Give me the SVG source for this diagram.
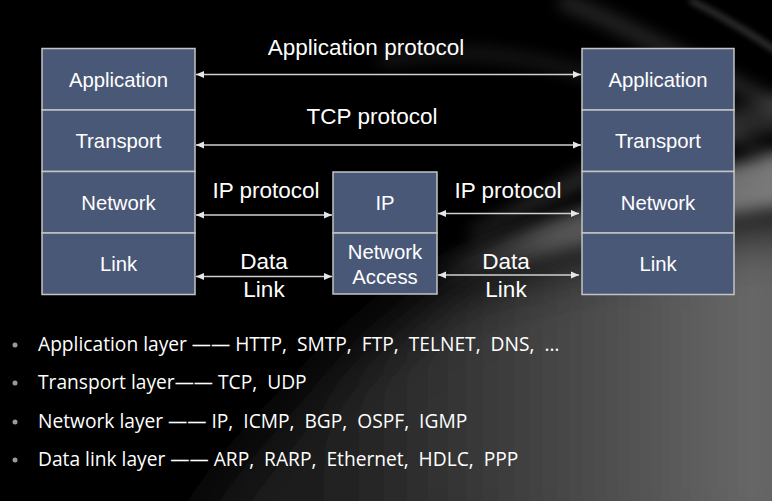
<svg xmlns="http://www.w3.org/2000/svg" width="772" height="501" viewBox="0 0 772 501">
  <defs>
    <linearGradient id="floor" x1="300" y1="0" x2="772" y2="0" gradientUnits="userSpaceOnUse">
      <stop offset="0" stop-color="#1a1a1a"/>
      <stop offset="0.45" stop-color="#3e3e3e"/>
      <stop offset="1" stop-color="#6a6a6a"/>
    </linearGradient>
    <linearGradient id="swoosh" x1="430" y1="0" x2="772" y2="0" gradientUnits="userSpaceOnUse">
      <stop offset="0" stop-color="#888" stop-opacity="0"/>
      <stop offset="0.35" stop-color="#888" stop-opacity="0.55"/>
      <stop offset="1" stop-color="#aaa" stop-opacity="0.7"/>
    </linearGradient>
    <filter id="blur8" x="-20%" y="-50%" width="140%" height="200%">
      <feGaussianBlur stdDeviation="8"/>
    </filter>
    <filter id="blur30" x="-30%" y="-30%" width="160%" height="160%">
      <feGaussianBlur stdDeviation="30"/>
    </filter>
    <filter id="blur3" x="-10%" y="-50%" width="120%" height="200%">
      <feGaussianBlur stdDeviation="3"/>
    </filter>
    <marker id="head" viewBox="0 0 8 8" refX="8" refY="4" markerWidth="8" markerHeight="8" markerUnits="userSpaceOnUse" orient="auto-start-reverse">
      <path d="M0,0.5 L8,4 L0,7.5 Z" fill="#e6e6e6"/>
    </marker>
  </defs>
  <style>
    .layer { fill: #4a5878; stroke: #c4c4c4; stroke-width: 1.5; }
    .lbl { font-family: "Liberation Sans", Arial, sans-serif; font-size: 20.3px; fill: #fff; text-anchor: middle; }
    .proto { font-family: "Liberation Sans", Arial, sans-serif; font-size: 22.5px; fill: #fff; text-anchor: middle; }
    .bullet { font-family: "Open Sans", "Liberation Sans", sans-serif; font-size: 19.2px; fill: #fff; white-space: pre; }
    .dot { fill: #9a9a9a; }
    .conn { stroke: #d0d0d0; stroke-width: 1.5; fill: none; marker-start: url(#head); marker-end: url(#head); }
  </style>

  <!-- dark backdrop with soft light sweeping in from the right -->
  <rect width="772" height="501" fill="#000"/>
  <path d="M180,560 C260,420 380,330 470,290 C580,250 680,230 820,220 L820,560 Z" fill="url(#floor)" filter="url(#blur30)"/>
  <path d="M430,262 C520,230 640,185 790,150 L790,205 C650,225 540,255 440,285 Z" fill="url(#swoosh)" filter="url(#blur8)"/>
  <path d="M470,230 C560,180 660,120 790,95 L790,130 C660,150 560,195 470,240 Z" fill="#777" opacity="0.35" filter="url(#blur8)"/>
  <path d="M560,0 C640,30 720,80 790,110" stroke="#aaa" stroke-width="14" fill="none" opacity="0.25" filter="url(#blur8)"/>
  <path d="M380,60 C480,40 620,60 790,170" stroke="#999" stroke-width="10" fill="none" opacity="0.2" filter="url(#blur8)"/>
  <path d="M690,0 C730,20 760,40 790,60" stroke="#bbb" stroke-width="4" fill="none" opacity="0.4" filter="url(#blur3)"/>

  <!-- left host stack -->
  <g id="host-left">
    <rect class="layer" x="42" y="48.5" width="153" height="61.5"/>
    <rect class="layer" x="42" y="110" width="153" height="61.5"/>
    <rect class="layer" x="42" y="171.5" width="153" height="61.5"/>
    <rect class="layer" x="42" y="233" width="153" height="61.5"/>
    <text class="lbl" x="118.5" y="87">Application</text>
    <text class="lbl" x="118.5" y="148">Transport</text>
    <text class="lbl" x="118.5" y="210">Network</text>
    <text class="lbl" x="118.5" y="271">Link</text>
  </g>

  <!-- router in the middle -->
  <g id="router">
    <rect class="layer" x="333" y="172" width="104" height="61"/>
    <rect class="layer" x="333" y="233" width="104" height="61"/>
    <text class="lbl" x="385" y="210">IP</text>
    <text class="lbl" x="385" y="259">Network</text>
    <text class="lbl" x="385" y="284">Access</text>
  </g>

  <!-- right host stack -->
  <g id="host-right">
    <rect class="layer" x="582" y="48.5" width="152" height="61.5"/>
    <rect class="layer" x="582" y="110" width="152" height="61.5"/>
    <rect class="layer" x="582" y="171.5" width="152" height="61.5"/>
    <rect class="layer" x="582" y="233" width="152" height="61.5"/>
    <text class="lbl" x="658" y="87">Application</text>
    <text class="lbl" x="658" y="148">Transport</text>
    <text class="lbl" x="658" y="210">Network</text>
    <text class="lbl" x="658" y="271">Link</text>
  </g>

  <!-- peer-to-peer protocol links -->
  <g id="connectors">
    <line class="conn" x1="196" y1="74.5" x2="581" y2="74.5"/>
    <line class="conn" x1="196" y1="145" x2="581" y2="145"/>
    <line class="conn" x1="196" y1="215" x2="332" y2="215"/>
    <line class="conn" x1="438" y1="213.5" x2="579" y2="213.5"/>
    <line class="conn" x1="196" y1="276.5" x2="332" y2="276.5"/>
    <line class="conn" x1="438" y1="275" x2="579" y2="275"/>
    <text class="proto" x="366" y="55">Application protocol</text>
    <text class="proto" x="372" y="124">TCP protocol</text>
    <text class="proto" x="266" y="198">IP protocol</text>
    <text class="proto" x="508" y="198">IP protocol</text>
    <text class="proto" x="264" y="269">Data</text>
    <text class="proto" x="264" y="297">Link</text>
    <text class="proto" x="506" y="269">Data</text>
    <text class="proto" x="506" y="297">Link</text>
  </g>

  <!-- protocol list per layer -->
  <g id="protocol-list">
    <circle class="dot" cx="15" cy="345" r="2.5"/>
    <circle class="dot" cx="15" cy="383" r="2.5"/>
    <circle class="dot" cx="15" cy="422" r="2.5"/>
    <circle class="dot" cx="15" cy="460" r="2.5"/>
    <text class="bullet" x="38" y="351" xml:space="preserve">Application layer —— HTTP,  SMTP,  FTP,  TELNET,  DNS,  …</text>
    <text class="bullet" x="38" y="389" xml:space="preserve">Transport layer—— TCP,  UDP</text>
    <text class="bullet" x="38" y="428" xml:space="preserve">Network layer —— IP,  ICMP,  BGP,  OSPF,  IGMP</text>
    <text class="bullet" x="38" y="466" xml:space="preserve">Data link layer —— ARP,  RARP,  Ethernet,  HDLC,  PPP</text>
  </g>
</svg>
